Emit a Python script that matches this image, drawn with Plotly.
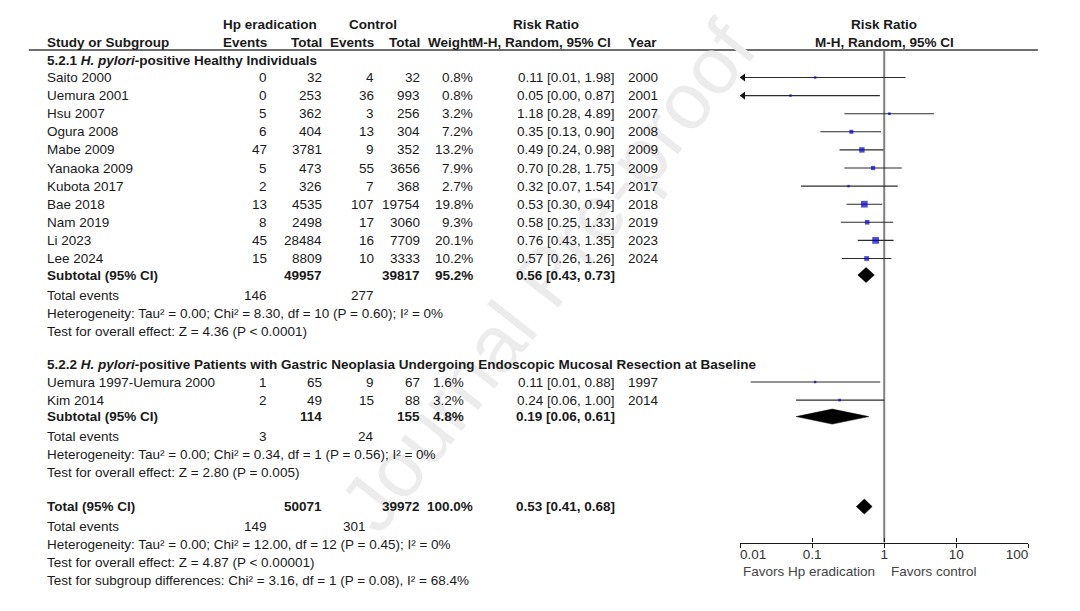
import math
import plotly.graph_objects as go

W, H = 1080, 611

# ---------------- data ----------------
g1_study = ["Saito 2000", "Uemura 2001", "Hsu 2007", "Ogura 2008", "Mabe 2009", "Yanaoka 2009",
            "Kubota 2017", "Bae 2018", "Nam 2019", "Li 2023", "Lee 2024"]
g1_hp_events = [0, 0, 5, 6, 47, 5, 2, 13, 8, 45, 15]
g1_hp_total = [32, 253, 362, 404, 3781, 473, 326, 4535, 2498, 28484, 8809]
g1_ctl_events = [4, 36, 3, 13, 9, 55, 7, 107, 17, 16, 10]
g1_ctl_total = [32, 993, 256, 304, 352, 3656, 368, 19754, 3060, 7709, 3333]
g1_weight = [0.8, 0.8, 3.2, 7.2, 13.2, 7.9, 2.7, 19.8, 9.3, 20.1, 10.2]
g1_rr = [0.11, 0.05, 1.18, 0.35, 0.49, 0.70, 0.32, 0.53, 0.58, 0.76, 0.57]
g1_lo = [0.006, 0.003, 0.28, 0.13, 0.24, 0.28, 0.07, 0.30, 0.25, 0.43, 0.26]
g1_hi = [1.98, 0.87, 4.89, 0.90, 0.98, 1.75, 1.54, 0.94, 1.33, 1.35, 1.26]
g1_year = [2000, 2001, 2007, 2008, 2009, 2009, 2017, 2018, 2019, 2023, 2024]

g2_study = ["Uemura 1997-Uemura 2000", "Kim 2014"]
g2_hp_events = [1, 2]
g2_hp_total = [65, 49]
g2_ctl_events = [9, 15]
g2_ctl_total = [67, 88]
g2_weight = [1.6, 3.2]
g2_rr = [0.11, 0.24]
g2_lo = [0.014, 0.06]
g2_hi = [0.88, 1.00]
g2_year = [1997, 2014]

# summaries: [hp_total, ctl_total, weight, rr, lo, hi, hp_events, ctl_events]
sub1 = [49957, 39817, 95.2, 0.56, 0.43, 0.73, 146, 277]
sub2 = [114, 155, 4.8, 0.19, 0.06, 0.61, 3, 24]
tot = [50071, 39972, 100.0, 0.53, 0.41, 0.68, 149, 301]

sub1_het = "Heterogeneity: Tau² = 0.00; Chi² = 8.30, df = 10 (P = 0.60); I² = 0%"
sub1_z = "Test for overall effect: Z = 4.36 (P < 0.0001)"
sub2_het = "Heterogeneity: Tau² = 0.00; Chi² = 0.34, df = 1 (P = 0.56); I² = 0%"
sub2_z = "Test for overall effect: Z = 2.80 (P = 0.005)"
tot_het = "Heterogeneity: Tau² = 0.00; Chi² = 12.00, df = 12 (P = 0.45); I² = 0%"
tot_z = "Test for overall effect: Z = 4.87 (P < 0.00001)"
tot_sub = "Test for subgroup differences: Chi² = 3.16, df = 1 (P = 0.08), I² = 68.4%"

g1_title = "5.2.1 <i>H. pylori</i>-positive Healthy Individuals"
g2_title = ("5.2.2 <i>H. pylori</i>-positive Patients with Gastric Neoplasia Undergoing "
            "Endoscopic Mucosal Resection at Baseline")

tick_vals = [0.01, 0.1, 1, 10, 100]
tick_text = ["0.01", "0.1", "1", "10", "100"]

# ---------------- layout geometry (pixels) ----------------
FONT = "Liberation Sans, Arial, Helvetica, sans-serif"
FS = 13.5
TXT = "#1a1a1a"
COL = dict(name=21, hp_ev=254, hp_tot=311, ctl_ev=366, ctl_tot=414, weight=469, rr=618, year=630)
AX_L, AX_R = 748, 1050          # pixel extent of the forest axis
AX_Y = 542.5                    # pixel y of the forest axis line
HEAD_Y = 50                     # header rule
NB = "\u00a0"

# row positions
y_g1 = 60
y_s1 = [77.5 + 18.1 * i for i in range(len(g1_study))]
y_sub1 = y_s1[-1] + 16.5
y_ev1 = y_sub1 + 20
y_het1 = y_ev1 + 18
y_z1 = y_het1 + 18
y_g2 = y_z1 + 33
y_s2 = [y_g2 + 18 + 18.1 * i for i in range(len(g2_study))]
y_sub2 = y_s2[-1] + 16.5
y_ev2 = y_sub2 + 20
y_het2 = y_ev2 + 18
y_z2 = y_het2 + 18
y_tot = y_z2 + 34
y_evt = y_tot + 19.5
y_hett = y_evt + 18
y_zt = y_hett + 18
y_subt = y_zt + 18

annotations = []

# watermark first (beneath the table text)
annotations.append(dict(x=546 / W, y=1 - 276 / H, xref="paper", yref="paper", text="Journal Pre-proof",
                        showarrow=False, textangle=-52, xanchor="center", yanchor="middle",
                        font=dict(family=FONT, size=80, color="#ececec")))


def txt(x, y, s, anchor="left", bold=False, color=TXT, size=FS):
    if bold:
        s = "<b>" + s + "</b>"
    annotations.append(dict(x=x / W, y=y, xref="paper", yref="y", text=s, showarrow=False,
                            xanchor=anchor, yanchor="middle", borderpad=0,
                            font=dict(family=FONT, size=size, color=color)))


def fmt_rr(r, lo, hi):
    return f"{r:.2f} [{lo:.2f}, {hi:.2f}]"


# header
txt(256, 24, "Hp eradication", "center", True)
txt(363, 24, "Control", "center", True)
txt(545, 24, "Risk Ratio", "center", True)
txt(899, 24, "Risk Ratio", "center", True)
txt(COL["name"], 42, "Study or Subgroup", "left", True)
txt(COL["hp_ev"], 42, "Events", "right", True)
txt(COL["hp_tot"], 42, "Total", "right", True)
txt(COL["ctl_ev"], 42, "Events", "right", True)
txt(COL["ctl_tot"], 42, "Total", "right", True)
txt(COL["weight"], 42, "Weight", "right", True)
txt(614, 42, "M-H, Random, 95% CI", "right", True)
txt(630, 42, "Year", "left", True)
txt(899, 42, "M-H, Random, 95% CI", "center", True)


def study_rows(ys, study, hev, htot, cev, ctot, wt, rr, lo, hi, yr, wcol):
    for i, y in enumerate(ys):
        txt(COL["name"], y, study[i])
        txt(COL["hp_ev"], y, str(hev[i]), "right")
        txt(COL["hp_tot"], y, str(htot[i]), "right")
        txt(COL["ctl_ev"], y, str(cev[i]), "right")
        txt(COL["ctl_tot"], y, str(ctot[i]), "right")
        txt(wcol, y, f"{wt[i]:.1f}%", "right")
        txt(COL["rr"], y, fmt_rr(rr[i], lo[i], hi[i]), "right")
        txt(COL["year"], y, str(yr[i]))


def summary_rows(y_s, y_e, y_h, y_z, label, s, het, z, wcol, evcol):
    txt(COL["name"], y_s, label, "left", True)
    txt(COL["hp_tot"], y_s, str(s[0]), "right", True)
    txt(COL["ctl_tot"], y_s, str(s[1]), "right", True)
    txt(wcol, y_s, f"{s[2]:.1f}%", "right", True)
    txt(COL["rr"], y_s, fmt_rr(s[3], s[4], s[5]), "right", True)
    txt(COL["name"], y_e, "Total events")
    txt(COL["hp_ev"], y_e, str(s[6]), "right")
    txt(evcol, y_e, str(s[7]), "right")
    txt(COL["name"], y_h, het)
    txt(COL["name"], y_z, z)


txt(COL["name"], y_g1, g1_title, "left", True)
study_rows(y_s1, g1_study, g1_hp_events, g1_hp_total, g1_ctl_events, g1_ctl_total,
           g1_weight, g1_rr, g1_lo, g1_hi, g1_year, COL["weight"])
summary_rows(y_sub1, y_ev1, y_het1, y_z1, "Subtotal (95% CI)", sub1, sub1_het, sub1_z,
             COL["weight"], COL["ctl_ev"])

txt(COL["name"], y_g2, g2_title, "left", True)
study_rows(y_s2, g2_study, g2_hp_events, g2_hp_total, g2_ctl_events, g2_ctl_total,
           g2_weight, g2_rr, g2_lo, g2_hi, g2_year, COL["weight"] - 9)
summary_rows(y_sub2, y_ev2, y_het2, y_z2, "Subtotal (95% CI)", sub2, sub2_het, sub2_z,
             COL["weight"] - 9, COL["ctl_ev"])

summary_rows(y_tot, y_evt, y_hett, y_zt, "Total (95% CI)", tot, tot_het, tot_z,
             COL["weight"], COL["ctl_ev"] - 9)
txt(COL["name"], y_subt, tot_sub)

# favours labels
txt(890, 571, "Favors Hp eradication", "right", color="#444444")
txt(905, 571, "Favors control", "left", color="#444444")

# ---------------- forest traces ----------------
fig = go.Figure()
XMIN = tick_vals[0]

all_y = y_s1 + y_s2
all_rr = g1_rr + g2_rr
all_lo = g1_lo + g2_lo
all_hi = g1_hi + g2_hi
all_w = g1_weight + g2_weight

# null line
fig.add_trace(go.Scatter(x=[1, 1], y=[HEAD_Y, AX_Y], mode="lines",
                         line=dict(color="#808080", width=2), hoverinfo="skip"))

# CI lines
for y, lo, hi in zip(all_y, all_lo, all_hi):
    fig.add_trace(go.Scatter(x=[max(lo, XMIN), hi], y=[y, y], mode="lines",
                             line=dict(color="#2b2b2b", width=1.1), hoverinfo="skip"))

# arrows for truncated CIs
arr_y = [y for y, lo in zip(all_y, all_lo) if lo < XMIN]
fig.add_trace(go.Scatter(x=[XMIN * 1.11] * len(arr_y), y=arr_y, mode="markers",
                         marker=dict(symbol="triangle-left", size=7, color="#111111",
                                     line=dict(width=0)), hoverinfo="skip"))

# weight squares
fig.add_trace(go.Scatter(x=all_rr, y=all_y, mode="markers",
                         marker=dict(symbol="square", color="#0000CC",
                                     size=[max(2.5, 1.5 * math.sqrt(w)) for w in all_w],
                                     line=dict(width=0)), hoverinfo="skip"))

# diamonds
DH = 7.5
for y, s in [(y_sub1, sub1), (y_sub2, sub2), (y_tot, tot)]:
    r, lo, hi = s[3], s[4], s[5]
    fig.add_trace(go.Scatter(x=[lo, r, hi, r, lo], y=[y, y - DH, y, y + DH, y], mode="lines",
                             fill="toself", fillcolor="#000000",
                             line=dict(color="#000000", width=0.5), hoverinfo="skip"))

# dummy trace for the overlay tick axis
fig.add_trace(go.Scatter(x=[1], y=[AX_Y], xaxis="x2", mode="markers",
                         marker=dict(opacity=0), hoverinfo="skip"))

# header rule
shapes = [dict(type="line", xref="paper", yref="y", x0=3 / W, x1=1060 / W, y0=HEAD_Y, y1=HEAD_Y,
               line=dict(color="#6e6e6e", width=2))]

# end labels sit inside the axis span, as in the reference
tick_lab = list(tick_text)
tick_lab[0] = NB * 7 + tick_lab[0]
tick_lab[-1] = tick_lab[-1] + NB * 6

pos = 1 - AX_Y / H
axis_common = dict(type="log", range=[math.log10(tick_vals[0]), math.log10(tick_vals[-1])],
                   domain=[AX_L / W, AX_R / W], anchor="free", position=pos,
                   tickvals=tick_vals, showgrid=False, zeroline=False, fixedrange=True)

fig.update_layout(
    width=W, height=H,
    margin=dict(l=0, r=0, t=0, b=0),
    paper_bgcolor="white", plot_bgcolor="rgba(0,0,0,0)",
    showlegend=False,
    font=dict(family=FONT, size=FS, color=TXT),
    xaxis=dict(**axis_common, ticktext=tick_lab, ticks="inside", ticklen=4, tickwidth=1.2,
               tickcolor="#1a1a1a", showline=True, linecolor="#1a1a1a", linewidth=1.3,
               ticklabelstandoff=-1,
               tickfont=dict(family=FONT, size=FS, color="#333333")),
    xaxis2=dict(**axis_common, overlaying="x", ticks="outside", ticklen=4, tickwidth=1.2,
                tickcolor="#1a1a1a", showticklabels=False, showline=False),
    yaxis=dict(range=[H, 0], domain=[0, 1], visible=False, fixedrange=True),
    annotations=annotations,
    shapes=shapes,
)

fig.write_html("out.html", config={"displayModeBar": False},
               post_script="document.body.style.margin='0px';")
